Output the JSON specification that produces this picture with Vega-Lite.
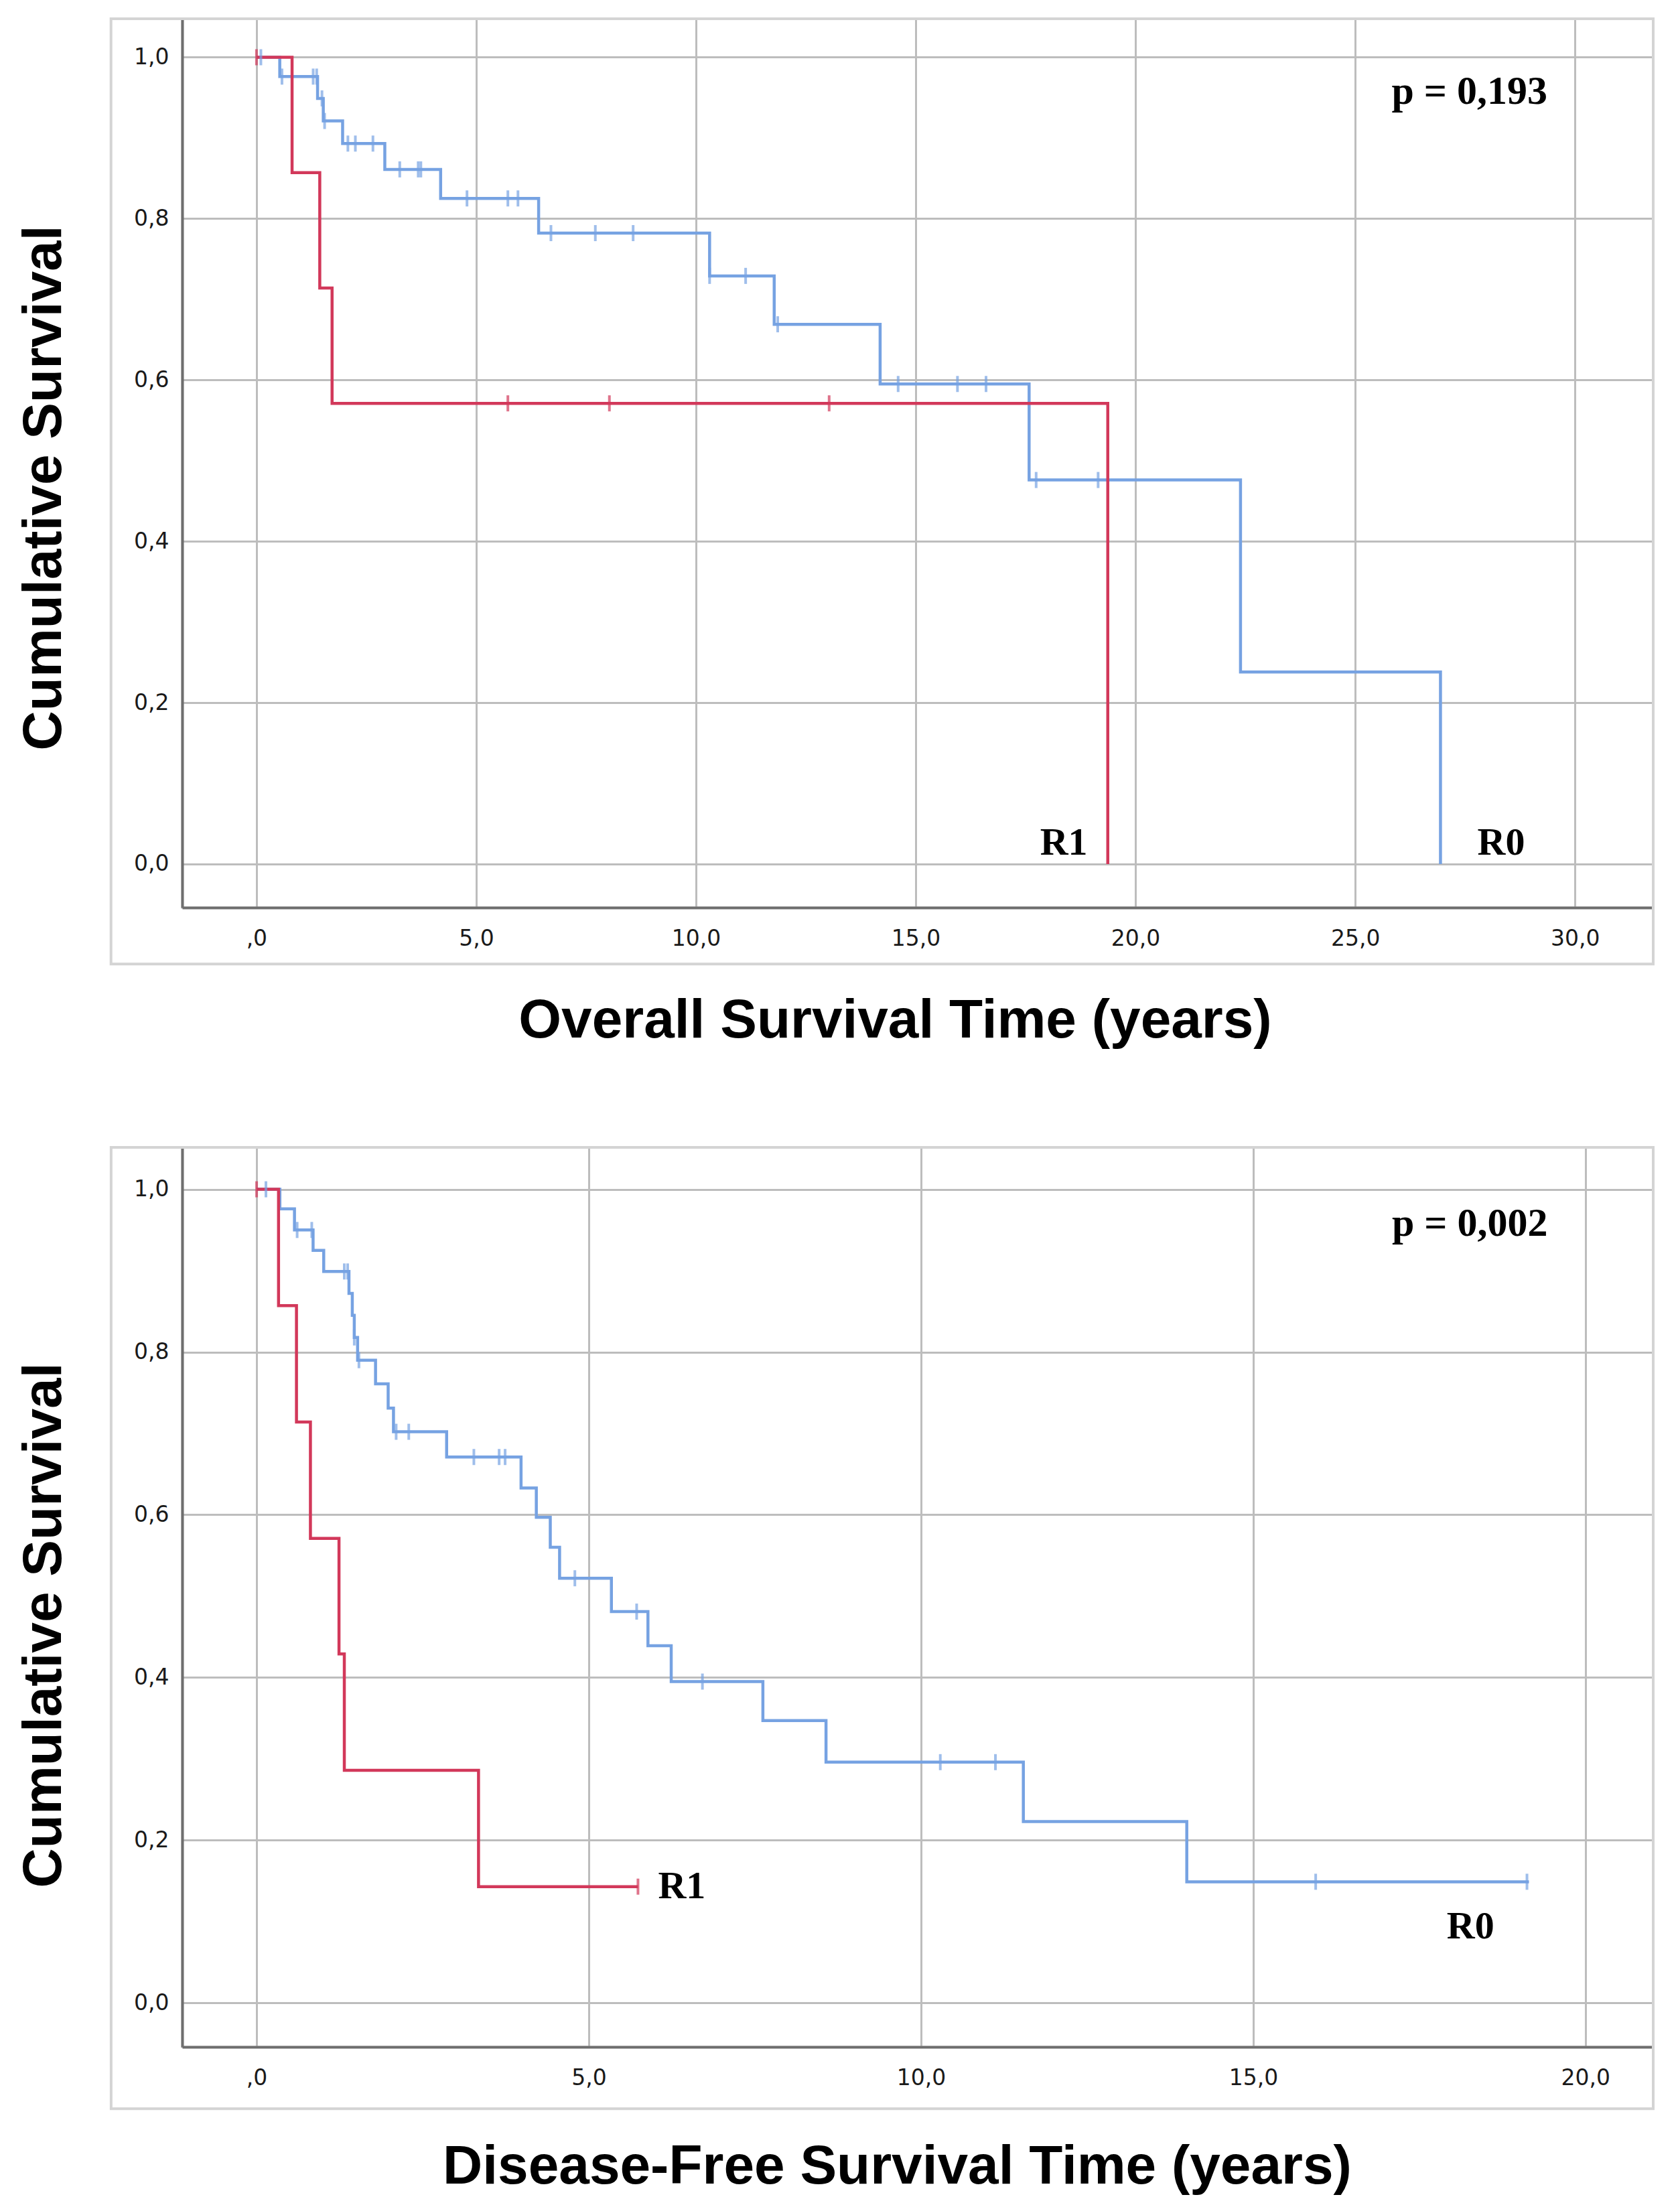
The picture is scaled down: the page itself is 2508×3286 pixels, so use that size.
{
  "$schema": "https://vega.github.io/schema/vega-lite/v6.json",
  "background": "white",
  "padding": {"left": 22, "top": 24, "right": 0, "bottom": 0},
  "config": {
    "view": {"stroke": "#bdbdbd", "strokeWidth": 3},
    "axis": {
      "grid": true, "gridColor": "#bdbdbd", "gridWidth": 3, "ticks": false,
      "domainColor": "#6e6e6e", "domainWidth": 4,
      "labelFont": "DejaVu Sans", "labelFontSize": 33, "labelColor": "#1a1a1a",
      "titleFont": "Liberation Sans", "titleFontSize": 82, "titleFontWeight": "bold", "titleColor": "#000000",
      "labelPadding": 20
    },
    "axisX": {"labelPadding": 30, "titleAlign": "center", "titleBaseline": "alphabetic", "titleAngle": 0,
      "labelExpr": "datum.value == 0 ? ',0' : replace(format(datum.value, '.1f'), '.', ',')"},
    "axisY": {"labelPadding": 20, "titleAlign": "center", "titleBaseline": "middle", "titleAngle": -90, "titleX": -207,
      "labelExpr": "replace(format(datum.value, '.1f'), '.', ',')"}
  },
  "datasets": {
    "frame": [{"part": "outer frame"}],
    "os_curve": [
      {"group": "R0", "t": 0, "s": 1.0},
      {"group": "R0", "t": 0.53, "s": 0.976},
      {"group": "R0", "t": 1.39, "s": 0.949},
      {"group": "R0", "t": 1.52, "s": 0.921},
      {"group": "R0", "t": 1.96, "s": 0.893},
      {"group": "R0", "t": 2.92, "s": 0.861},
      {"group": "R0", "t": 4.19, "s": 0.825},
      {"group": "R0", "t": 6.42, "s": 0.782},
      {"group": "R0", "t": 10.31, "s": 0.729},
      {"group": "R0", "t": 11.78, "s": 0.669},
      {"group": "R0", "t": 14.19, "s": 0.595},
      {"group": "R0", "t": 17.58, "s": 0.476},
      {"group": "R0", "t": 22.39, "s": 0.238},
      {"group": "R0", "t": 26.94, "s": 0.0},
      {"group": "R1", "t": 0, "s": 1.0},
      {"group": "R1", "t": 0.81, "s": 0.857},
      {"group": "R1", "t": 1.44, "s": 0.714},
      {"group": "R1", "t": 1.72, "s": 0.571},
      {"group": "R1", "t": 19.37, "s": 0.0}
    ],
    "os_censor": [
      {"group": "R0", "t": 0.1, "s": 1.0},
      {"group": "R0", "t": 0.58, "s": 0.976},
      {"group": "R0", "t": 1.29, "s": 0.976},
      {"group": "R0", "t": 1.37, "s": 0.976},
      {"group": "R0", "t": 1.49, "s": 0.949},
      {"group": "R0", "t": 1.55, "s": 0.921},
      {"group": "R0", "t": 2.08, "s": 0.893},
      {"group": "R0", "t": 2.25, "s": 0.893},
      {"group": "R0", "t": 2.65, "s": 0.893},
      {"group": "R0", "t": 3.26, "s": 0.861},
      {"group": "R0", "t": 3.68, "s": 0.861},
      {"group": "R0", "t": 3.74, "s": 0.861},
      {"group": "R0", "t": 4.79, "s": 0.825},
      {"group": "R0", "t": 5.72, "s": 0.825},
      {"group": "R0", "t": 5.95, "s": 0.825},
      {"group": "R0", "t": 6.7, "s": 0.782},
      {"group": "R0", "t": 7.71, "s": 0.782},
      {"group": "R0", "t": 8.57, "s": 0.782},
      {"group": "R0", "t": 10.31, "s": 0.729},
      {"group": "R0", "t": 11.13, "s": 0.729},
      {"group": "R0", "t": 11.86, "s": 0.669},
      {"group": "R0", "t": 14.6, "s": 0.595},
      {"group": "R0", "t": 15.95, "s": 0.595},
      {"group": "R0", "t": 16.6, "s": 0.595},
      {"group": "R0", "t": 17.74, "s": 0.476},
      {"group": "R0", "t": 19.15, "s": 0.476},
      {"group": "R1", "t": 0, "s": 1.0},
      {"group": "R1", "t": 5.72, "s": 0.571},
      {"group": "R1", "t": 8.03, "s": 0.571},
      {"group": "R1", "t": 13.03, "s": 0.571}
    ],
    "os_text": [
      {"kind": "p", "label": "p = 0,193", "t": 27.6, "s": 0.942},
      {"kind": "group", "label": "R1", "t": 18.37, "s": 0.012},
      {"kind": "group", "label": "R0", "t": 28.32, "s": 0.012}
    ],
    "dfs_curve": [
      {"group": "R0", "t": 0, "s": 1.0},
      {"group": "R0", "t": 0.35, "s": 0.976},
      {"group": "R0", "t": 0.57, "s": 0.95},
      {"group": "R0", "t": 0.85, "s": 0.925},
      {"group": "R0", "t": 1.01, "s": 0.899},
      {"group": "R0", "t": 1.39, "s": 0.872},
      {"group": "R0", "t": 1.44, "s": 0.845},
      {"group": "R0", "t": 1.47, "s": 0.818},
      {"group": "R0", "t": 1.52, "s": 0.79},
      {"group": "R0", "t": 1.79, "s": 0.761},
      {"group": "R0", "t": 1.98, "s": 0.731},
      {"group": "R0", "t": 2.06, "s": 0.702},
      {"group": "R0", "t": 2.86, "s": 0.671},
      {"group": "R0", "t": 3.98, "s": 0.633},
      {"group": "R0", "t": 4.21, "s": 0.597},
      {"group": "R0", "t": 4.42, "s": 0.56},
      {"group": "R0", "t": 4.56, "s": 0.522},
      {"group": "R0", "t": 5.34, "s": 0.481},
      {"group": "R0", "t": 5.89, "s": 0.439},
      {"group": "R0", "t": 6.24, "s": 0.395},
      {"group": "R0", "t": 7.62, "s": 0.347},
      {"group": "R0", "t": 8.57, "s": 0.296},
      {"group": "R0", "t": 11.54, "s": 0.223},
      {"group": "R0", "t": 14.0, "s": 0.149},
      {"group": "R0", "t": 19.15, "s": 0.149},
      {"group": "R1", "t": 0, "s": 1.0},
      {"group": "R1", "t": 0.33, "s": 0.857},
      {"group": "R1", "t": 0.6, "s": 0.714},
      {"group": "R1", "t": 0.81, "s": 0.571},
      {"group": "R1", "t": 1.24, "s": 0.429},
      {"group": "R1", "t": 1.32, "s": 0.286},
      {"group": "R1", "t": 3.34, "s": 0.143},
      {"group": "R1", "t": 5.74, "s": 0.143}
    ],
    "dfs_censor": [
      {"group": "R0", "t": 0.14, "s": 1.0},
      {"group": "R0", "t": 0.61, "s": 0.95},
      {"group": "R0", "t": 0.83, "s": 0.95},
      {"group": "R0", "t": 1.32, "s": 0.899},
      {"group": "R0", "t": 1.37, "s": 0.899},
      {"group": "R0", "t": 1.47, "s": 0.818},
      {"group": "R0", "t": 1.54, "s": 0.79},
      {"group": "R0", "t": 2.1, "s": 0.702},
      {"group": "R0", "t": 2.29, "s": 0.702},
      {"group": "R0", "t": 3.27, "s": 0.671},
      {"group": "R0", "t": 3.65, "s": 0.671},
      {"group": "R0", "t": 3.74, "s": 0.671},
      {"group": "R0", "t": 4.79, "s": 0.522},
      {"group": "R0", "t": 5.72, "s": 0.481},
      {"group": "R0", "t": 6.71, "s": 0.395},
      {"group": "R0", "t": 10.29, "s": 0.296},
      {"group": "R0", "t": 11.12, "s": 0.296},
      {"group": "R0", "t": 15.94, "s": 0.149},
      {"group": "R0", "t": 19.12, "s": 0.149},
      {"group": "R1", "t": 0, "s": 1.0},
      {"group": "R1", "t": 5.74, "s": 0.143}
    ],
    "dfs_text": [
      {"kind": "p", "label": "p = 0,002", "t": 18.26, "s": 0.943},
      {"kind": "group", "label": "R1", "t": 6.4, "s": 0.129},
      {"kind": "group", "label": "R0", "t": 18.27, "s": 0.079}
    ]
  },
  "vconcat": [
    {
      "width": 2196,
      "height": 1327,
      "layer": [
        {
          "data": {"name": "frame"},
          "mark": {"type": "rect", "fill": "transparent", "stroke": "#d4d4d4", "strokeWidth": 4, "clip": false},
          "encoding": {
            "x": {"datum": -3.31, "type": "quantitative", "scale": {"domain": [-1.69, 31.78], "nice": false, "zero": false},
              "axis": {"values": [0, 5, 10, 15, 20, 25, 30], "title": "Overall Survival Time (years)", "titleX": 1064, "titleY": 193}},
            "x2": {"datum": 31.78},
            "y": {"datum": -0.124, "type": "quantitative", "scale": {"domain": [-0.054, 1.0477], "nice": false, "zero": false},
              "axis": {"values": [0, 0.2, 0.4, 0.6, 0.8, 1.0], "title": "Cumulative Survival", "titleY": 700}},
            "y2": {"datum": 1.0477}
          }
        },
        {
          "data": {"name": "os_curve"},
          "mark": {"type": "line", "interpolate": "step-after", "strokeWidth": 4.5},
          "encoding": {
            "x": {"field": "t", "type": "quantitative", "scale": {"domain": [-1.69, 31.78], "nice": false, "zero": false},
              "axis": {"values": [0, 5, 10, 15, 20, 25, 30], "title": "Overall Survival Time (years)", "titleX": 1064, "titleY": 193}},
            "y": {"field": "s", "type": "quantitative", "scale": {"domain": [-0.054, 1.0477], "nice": false, "zero": false},
              "axis": {"values": [0, 0.2, 0.4, 0.6, 0.8, 1.0], "title": "Cumulative Survival", "titleY": 700}},
            "color": {"field": "group", "type": "nominal", "scale": {"domain": ["R0", "R1"], "range": ["#76A2E2", "#D2385A"]}, "legend": null}
          }
        },
        {
          "data": {"name": "os_censor"},
          "mark": {"type": "tick", "orient": "vertical", "size": 24, "thickness": 4},
          "encoding": {
            "x": {"field": "t", "type": "quantitative", "scale": {"domain": [-1.69, 31.78], "nice": false, "zero": false},
              "axis": {"values": [0, 5, 10, 15, 20, 25, 30], "title": "Overall Survival Time (years)", "titleX": 1064, "titleY": 193}},
            "y": {"field": "s", "type": "quantitative", "scale": {"domain": [-0.054, 1.0477], "nice": false, "zero": false},
              "axis": {"values": [0, 0.2, 0.4, 0.6, 0.8, 1.0], "title": "Cumulative Survival", "titleY": 700}},
            "color": {"field": "group", "type": "nominal", "scale": {"domain": ["R0", "R1"], "range": ["#76A2E2", "#D2385A"]}, "legend": null}
          }
        },
        {
          "data": {"name": "os_text"},
          "transform": [{"filter": "datum.kind == 'p'"}],
          "mark": {"type": "text", "font": "Liberation Serif", "fontSize": 60, "fontWeight": "bold", "align": "center", "baseline": "alphabetic", "color": "#000000"},
          "encoding": {
            "x": {"field": "t", "type": "quantitative", "scale": {"domain": [-1.69, 31.78], "nice": false, "zero": false},
              "axis": {"values": [0, 5, 10, 15, 20, 25, 30], "title": "Overall Survival Time (years)", "titleX": 1064, "titleY": 193}},
            "y": {"field": "s", "type": "quantitative", "scale": {"domain": [-0.054, 1.0477], "nice": false, "zero": false},
              "axis": {"values": [0, 0.2, 0.4, 0.6, 0.8, 1.0], "title": "Cumulative Survival", "titleY": 700}},
            "text": {"field": "label"}
          }
        },
        {
          "data": {"name": "os_text"},
          "transform": [{"filter": "datum.kind == 'group'"}],
          "mark": {"type": "text", "font": "Liberation Serif", "fontSize": 58, "fontWeight": "bold", "align": "center", "baseline": "alphabetic", "color": "#000000"},
          "encoding": {
            "x": {"field": "t", "type": "quantitative", "scale": {"domain": [-1.69, 31.78], "nice": false, "zero": false},
              "axis": {"values": [0, 5, 10, 15, 20, 25, 30], "title": "Overall Survival Time (years)", "titleX": 1064, "titleY": 193}},
            "y": {"field": "s", "type": "quantitative", "scale": {"domain": [-0.054, 1.0477], "nice": false, "zero": false},
              "axis": {"values": [0, 0.2, 0.4, 0.6, 0.8, 1.0], "title": "Cumulative Survival", "titleY": 700}},
            "text": {"field": "label"}
          }
        }
      ]
    },
    {
      "width": 2196,
      "height": 1343,
      "layer": [
        {
          "data": {"name": "frame"},
          "mark": {"type": "rect", "fill": "transparent", "stroke": "#d4d4d4", "strokeWidth": 4, "clip": false},
          "encoding": {
            "x": {"datum": -2.19, "type": "quantitative", "scale": {"domain": [-1.12, 21.02], "nice": false, "zero": false},
              "axis": {"values": [0, 5, 10, 15, 20], "title": "Disease-Free Survival Time (years)", "titleX": 1067, "titleY": 203}},
            "x2": {"datum": 21.02},
            "y": {"datum": -0.13, "type": "quantitative", "scale": {"domain": [-0.054, 1.0515], "nice": false, "zero": false},
              "axis": {"values": [0, 0.2, 0.4, 0.6, 0.8, 1.0], "title": "Cumulative Survival", "titleY": 713}},
            "y2": {"datum": 1.0515}
          }
        },
        {
          "data": {"name": "dfs_curve"},
          "mark": {"type": "line", "interpolate": "step-after", "strokeWidth": 4.5},
          "encoding": {
            "x": {"field": "t", "type": "quantitative", "scale": {"domain": [-1.12, 21.02], "nice": false, "zero": false},
              "axis": {"values": [0, 5, 10, 15, 20], "title": "Disease-Free Survival Time (years)", "titleX": 1067, "titleY": 203}},
            "y": {"field": "s", "type": "quantitative", "scale": {"domain": [-0.054, 1.0515], "nice": false, "zero": false},
              "axis": {"values": [0, 0.2, 0.4, 0.6, 0.8, 1.0], "title": "Cumulative Survival", "titleY": 713}},
            "color": {"field": "group", "type": "nominal", "scale": {"domain": ["R0", "R1"], "range": ["#76A2E2", "#D2385A"]}, "legend": null}
          }
        },
        {
          "data": {"name": "dfs_censor"},
          "mark": {"type": "tick", "orient": "vertical", "size": 24, "thickness": 4},
          "encoding": {
            "x": {"field": "t", "type": "quantitative", "scale": {"domain": [-1.12, 21.02], "nice": false, "zero": false},
              "axis": {"values": [0, 5, 10, 15, 20], "title": "Disease-Free Survival Time (years)", "titleX": 1067, "titleY": 203}},
            "y": {"field": "s", "type": "quantitative", "scale": {"domain": [-0.054, 1.0515], "nice": false, "zero": false},
              "axis": {"values": [0, 0.2, 0.4, 0.6, 0.8, 1.0], "title": "Cumulative Survival", "titleY": 713}},
            "color": {"field": "group", "type": "nominal", "scale": {"domain": ["R0", "R1"], "range": ["#76A2E2", "#D2385A"]}, "legend": null}
          }
        },
        {
          "data": {"name": "dfs_text"},
          "transform": [{"filter": "datum.kind == 'p'"}],
          "mark": {"type": "text", "font": "Liberation Serif", "fontSize": 60, "fontWeight": "bold", "align": "center", "baseline": "alphabetic", "color": "#000000"},
          "encoding": {
            "x": {"field": "t", "type": "quantitative", "scale": {"domain": [-1.12, 21.02], "nice": false, "zero": false},
              "axis": {"values": [0, 5, 10, 15, 20], "title": "Disease-Free Survival Time (years)", "titleX": 1067, "titleY": 203}},
            "y": {"field": "s", "type": "quantitative", "scale": {"domain": [-0.054, 1.0515], "nice": false, "zero": false},
              "axis": {"values": [0, 0.2, 0.4, 0.6, 0.8, 1.0], "title": "Cumulative Survival", "titleY": 713}},
            "text": {"field": "label"}
          }
        },
        {
          "data": {"name": "dfs_text"},
          "transform": [{"filter": "datum.kind == 'group'"}],
          "mark": {"type": "text", "font": "Liberation Serif", "fontSize": 58, "fontWeight": "bold", "align": "center", "baseline": "alphabetic", "color": "#000000"},
          "encoding": {
            "x": {"field": "t", "type": "quantitative", "scale": {"domain": [-1.12, 21.02], "nice": false, "zero": false},
              "axis": {"values": [0, 5, 10, 15, 20], "title": "Disease-Free Survival Time (years)", "titleX": 1067, "titleY": 203}},
            "y": {"field": "s", "type": "quantitative", "scale": {"domain": [-0.054, 1.0515], "nice": false, "zero": false},
              "axis": {"values": [0, 0.2, 0.4, 0.6, 0.8, 1.0], "title": "Cumulative Survival", "titleY": 713}},
            "text": {"field": "label"}
          }
        }
      ]
    }
  ],
  "spacing": 358,
  "bounds": "flush",
  "resolve": {"scale": {"x": "independent", "y": "independent", "color": "shared"}}
}
